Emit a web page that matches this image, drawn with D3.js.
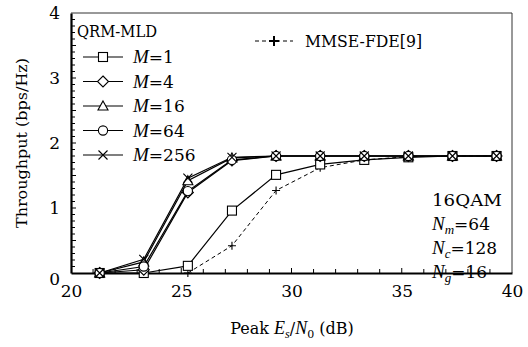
<!DOCTYPE html>
<html>
<head>
<meta charset="utf-8">
<script src="https://cdn.jsdelivr.net/npm/d3@7/dist/d3.min.js"></script>
<style>
  html, body { margin: 0; padding: 0; background: #fff; }
</style>
</head>
<body>
<svg id="chart" width="528" height="347"></svg>
<script>
// Peak Es/N0 sample points (dB)
const snr = [21.3, 23.3, 25.3, 27.3, 29.3, 31.3, 33.3, 35.3, 37.3, 39.3];
// Throughput (bps/Hz), QRM-MLD for each M
const m1   = [0, 0, 0.11, 0.96, 1.51, 1.67, 1.74, 1.78, 1.8, 1.8];
const m4   = [0, 0.05, 1.24, 1.73, 1.8, 1.8, 1.8, 1.8, 1.8, 1.8];
const m16  = [0, 0.17, 1.42, 1.77, 1.8, 1.8, 1.8, 1.8, 1.8, 1.8];
const m64  = [0, 0.1, 1.26, 1.74, 1.8, 1.8, 1.8, 1.8, 1.8, 1.8];
const m256 = [0, 0.21, 1.46, 1.78, 1.8, 1.8, 1.8, 1.8, 1.8, 1.8];
// MMSE-FDE reference curve
const snrMmse = [25.3, 27.3, 29.3, 31.3, 33.3, 35.3, 37.3, 39.3];
const mmse = [0, 0.42, 1.27, 1.62, 1.74, 1.79, 1.8, 1.8];

const xTicks = [20, 25, 30, 35, 40];
const yTicks = [0, 1, 2, 3, 4];

const SERIF = "'DejaVu Serif', serif";
const SERIF_IT = "'Liberation Serif', 'DejaVu Serif', serif";

const svg = d3.select("#chart");
const L = 71, R = 512, T = 13, B = 273;
const x = d3.scaleLinear().domain([20, 40]).range([L, R]);
const y = d3.scaleLinear().domain([0, 4]).range([B, T]);

// frame: light top/right, heavy bottom/left
svg.append("line").attr("x1", L).attr("x2", R).attr("y1", T).attr("y2", T)
  .attr("stroke", "#333").attr("stroke-width", 1);
svg.append("line").attr("x1", R).attr("x2", R).attr("y1", T).attr("y2", B)
  .attr("stroke", "#333").attr("stroke-width", 1);

// minor ticks drawn inward
const gx = svg.append("g");
d3.range(21, 40, 1).forEach(v => {
  gx.append("line").attr("x1", x(v)).attr("x2", x(v))
    .attr("y1", B).attr("y2", B - (v % 5 === 0 ? 5 : 4))
    .attr("stroke", "#000").attr("stroke-width", 1);
});
d3.range(1, 40, 1).forEach(i => {
  const v = i / 10;
  gx.append("line").attr("x1", L).attr("x2", L + (i % 5 === 0 ? 5 : 4))
    .attr("y1", y(v)).attr("y2", y(v))
    .attr("stroke", "#000").attr("stroke-width", 1);
});

// axes
const xAxis = d3.axisBottom(x).tickValues(xTicks).tickFormat(d3.format("d")).tickSize(0).tickPadding(12);
const gX = svg.append("g").attr("transform", `translate(0,${B})`).call(xAxis);
gX.attr("font-family", null).attr("font-size", null);
gX.select(".domain").attr("stroke", "#000").attr("stroke-width", 2.2);
gX.selectAll("text").style("font-size", "17px").style("font-family", SERIF).attr("fill", "#000");

const yAxis = d3.axisLeft(y).tickValues(yTicks).tickFormat(d3.format("d")).tickSize(0).tickPadding(11);
const gY = svg.append("g").attr("transform", `translate(${L},0)`).call(yAxis);
gY.attr("font-family", null).attr("font-size", null);
gY.select(".domain").attr("stroke", "#000").attr("stroke-width", 2.2);
gY.selectAll("text").style("font-size", "17px").style("font-family", SERIF).attr("fill", "#000");
gY.selectAll(".tick").filter(d => d === 0).select("text").attr("dy", "0.7em");

// axis titles
svg.append("text").attr("transform", "translate(27,143) rotate(-90)")
  .attr("text-anchor", "middle").style("font-size", "15px").style("font-family", SERIF)
  .attr("textLength", 170).attr("lengthAdjust", "spacingAndGlyphs")
  .text("Throughput (bps/Hz)");
const xt = svg.append("text").attr("x", 292).attr("y", 334)
  .attr("text-anchor", "middle").style("font-size", "16px").style("font-family", SERIF);
xt.append("tspan").text("Peak ");
xt.append("tspan").style("font-family", SERIF_IT).style("font-style", "italic").style("font-size", "18px").text("E");
xt.append("tspan").style("font-family", SERIF_IT).style("font-style", "italic").style("font-size", "12px").attr("dy", 4).text("s");
xt.append("tspan").attr("dy", -4).text("/");
xt.append("tspan").style("font-family", SERIF_IT).style("font-style", "italic").style("font-size", "18px").text("N");
xt.append("tspan").style("font-size", "11px").attr("dy", 4).text("0");
xt.append("tspan").attr("dy", -4).text(" (dB)");

// marker painters
function marker(g, type, cx, cy) {
  const s = 4.5;
  if (type === "square") {
    g.append("rect").attr("x", cx - s).attr("y", cy - s).attr("width", 2 * s).attr("height", 2 * s)
      .attr("fill", "#fff").attr("stroke", "#000").attr("stroke-width", 1.1);
  } else if (type === "diamond") {
    g.append("path").attr("d", `M${cx},${cy - 5.5}L${cx + 5.5},${cy}L${cx},${cy + 5.5}L${cx - 5.5},${cy}Z`)
      .attr("fill", "#fff").attr("stroke", "#000").attr("stroke-width", 1.1);
  } else if (type === "triangle") {
    g.append("path").attr("d", `M${cx},${cy - 5}L${cx + 5},${cy + 4}L${cx - 5},${cy + 4}Z`)
      .attr("fill", "#fff").attr("stroke", "#000").attr("stroke-width", 1.1);
  } else if (type === "circle") {
    g.append("circle").attr("cx", cx).attr("cy", cy).attr("r", 4.6)
      .attr("fill", "#fff").attr("stroke", "#000").attr("stroke-width", 1.1);
  } else if (type === "cross") {
    g.append("path").attr("d", `M${cx - 4.5},${cy - 4.5}L${cx + 4.5},${cy + 4.5}M${cx - 4.5},${cy + 4.5}L${cx + 4.5},${cy - 4.5}`)
      .attr("stroke", "#000").attr("stroke-width", 1.1);
  } else if (type === "plus") {
    g.append("path").attr("d", `M${cx - 4},${cy}L${cx + 4},${cy}M${cx},${cy - 4}L${cx},${cy + 4}`)
      .attr("stroke", "#000").attr("stroke-width", 1.1);
  }
}

const series = [
  { name: "1", xs: snr, ys: m1, type: "square" },
  { name: "4", xs: snr, ys: m4, type: "diamond" },
  { name: "16", xs: snr, ys: m16, type: "triangle" },
  { name: "64", xs: snr, ys: m64, type: "circle" },
  { name: "256", xs: snr, ys: m256, type: "cross" }
];

const line = d3.line().x(d => x(d[0])).y(d => y(d[1]));
const plot = svg.append("g");

// MMSE-FDE dashed curve
const mmsePts = snrMmse.map((v, i) => [v, mmse[i]]);
plot.append("path").attr("d", line(mmsePts)).attr("fill", "none")
  .attr("stroke", "#000").attr("stroke-width", 1).attr("stroke-dasharray", "4,3");
series.forEach(s => {
  const pts = s.xs.map((v, i) => [v, s.ys[i]]);
  plot.append("path").attr("d", line(pts)).attr("fill", "none")
    .attr("stroke", "#000").attr("stroke-width", 1.2);
});
mmsePts.forEach(p => marker(plot, "plus", x(p[0]), y(p[1])));
series.forEach(s => {
  s.xs.forEach((v, i) => marker(plot, s.type, x(v), y(s.ys[i])));
});

// legend: QRM-MLD block
const lg = svg.append("g");
lg.append("text").attr("x", 77).attr("y", 37).style("font-size", "17px").style("font-family", SERIF)
  .attr("textLength", 80).attr("lengthAdjust", "spacingAndGlyphs").text("QRM-MLD");
series.forEach((s, i) => {
  const ry = 57 + i * 24.5;
  lg.append("line").attr("x1", 83).attr("x2", 123).attr("y1", ry).attr("y2", ry)
    .attr("stroke", "#000").attr("stroke-width", 1.2);
  marker(lg, s.type, 103, ry);
  const t = lg.append("text").attr("x", 133).attr("y", ry + 6).style("font-size", "17px").style("font-family", SERIF);
  t.append("tspan").style("font-family", SERIF_IT).style("font-style", "italic").style("font-size", "19px").text("M");
  t.append("tspan").text("=" + s.name);
});
// legend: MMSE-FDE
lg.append("line").attr("x1", 255).attr("x2", 293).attr("y1", 41).attr("y2", 41)
  .attr("stroke", "#000").attr("stroke-width", 1).attr("stroke-dasharray", "4,3");
lg.append("path").attr("d", "M269,41L279,41M274,36L274,46").attr("stroke", "#000").attr("stroke-width", 2);
lg.append("text").attr("x", 305).attr("y", 47).style("font-size", "16px").style("font-family", SERIF)
  .attr("textLength", 117).attr("lengthAdjust", "spacingAndGlyphs").text("MMSE-FDE[9]");

// parameter annotation
const ann = svg.append("g");
ann.append("text").attr("x", 432).attr("y", 206).style("font-size", "17px").style("font-family", SERIF)
  .attr("textLength", 70).attr("lengthAdjust", "spacingAndGlyphs").text("16QAM");
[["m", "64", 230], ["c", "128", 254], ["g", "16", 278]].forEach(([sub, val, yy]) => {
  const t = ann.append("text").attr("x", 432).attr("y", yy).style("font-size", "17px").style("font-family", SERIF);
  t.append("tspan").style("font-family", SERIF_IT).style("font-style", "italic").style("font-size", "19px").text("N");
  t.append("tspan").style("font-family", SERIF_IT).style("font-style", "italic").style("font-size", "13px").attr("dy", 4).text(sub);
  t.append("tspan").attr("dy", -4).text("=" + val);
});
</script>
</body>
</html>
